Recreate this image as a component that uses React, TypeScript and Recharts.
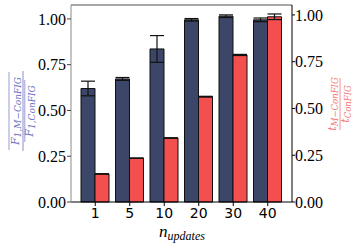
import React from "react";
import {
  BarChart,
  Bar,
  XAxis,
  YAxis,
  ErrorBar,
  ReferenceLine,
} from "recharts";

const updates = ["1", "5", "10", "20", "30", "40"];
const forceRatio = [0.62, 0.672, 0.836, 0.995, 1.015, 0.995];
const forceErr = [0.04, 0.008, 0.073, 0.007, 0.007, 0.01];
const timeRatio = [0.15, 0.234, 0.342, 0.563, 0.786, 0.99];
const timeErr = [0.001, 0.001, 0.001, 0.002, 0.003, 0.015];
const yTicks = [0, 0.25, 0.5, 0.75, 1];

const data = updates.map((n, i) => ({
  n,
  force: forceRatio[i],
  forceErr: forceErr[i],
  time: timeRatio[i],
  timeErr: timeErr[i],
}));

const NAVY = "#3b4669";
const RED = "#f44f4f";
const BLUE_LABEL = "#6f72c2";
const RED_LABEL = "#f27676";
const serif = "'Liberation Serif', 'DejaVu Serif', serif";
const mathFont = "'DejaVu Serif', serif";

export default function App() {
  return (
    <div style={{ position: "absolute", left: 0, top: 0, width: 356, height: 246, background: "#fff" }}>
      <BarChart
        width={356}
        height={246}
        data={data}
        margin={{ top: 5, right: 0, bottom: 14, left: 0 }}
        barGap={0}
      >
        <XAxis
          dataKey="n"
          height={30}
          padding={{ left: 7, right: 7 }}
          tick={{ fontSize: 14, fill: "#000", fontFamily: "'DejaVu Sans', sans-serif" }}
          tickSize={4}
          tickMargin={2}
          axisLine={{ stroke: "#000" }}
          tickLine={{ stroke: "#000" }}
        />
        <YAxis
          yAxisId="left"
          width={71}
          domain={[0, 1.076]}
          ticks={yTicks}
          tickFormatter={(v) => Number(v).toFixed(2)}
          tick={{ fontSize: 16, fill: "#000", fontFamily: serif }}
          tickSize={4}
          tickMargin={1}
          axisLine={{ stroke: "#8a8a8a" }}
          tickLine={{ stroke: "#444" }}
        />
        <YAxis
          yAxisId="right"
          orientation="right"
          width={64}
          domain={[0, 1.053]}
          ticks={yTicks}
          tickFormatter={(v) => Number(v).toFixed(2)}
          tick={{ fontSize: 16, fill: "#000", fontFamily: serif }}
          tickSize={3}
          tickMargin={0}
          axisLine={{ stroke: "#000" }}
          tickLine={{ stroke: "#000" }}
        />
        <ReferenceLine yAxisId="left" y={1.076} stroke="#8a8a8a" strokeWidth={1.5} />
        <Bar
          yAxisId="left"
          dataKey="force"
          fill={NAVY}
          stroke="#111"
          strokeWidth={1}
          barSize={14}
          isAnimationActive={false}
        >
          <ErrorBar dataKey="forceErr" width={7} stroke="#111" strokeWidth={1.2} />
        </Bar>
        <Bar
          yAxisId="right"
          dataKey="time"
          fill={RED}
          stroke="#111"
          strokeWidth={1}
          barSize={14}
          isAnimationActive={false}
        >
          <ErrorBar dataKey="timeErr" width={7} stroke="#111" strokeWidth={1.2} />
        </Bar>
      </BarChart>
      <svg
        width={356}
        height={246}
        style={{ position: "absolute", left: 0, top: 0, pointerEvents: "none" }}
      >
        {/* left axis label: mean F ratio */}
        <g transform="translate(23 111) rotate(-90)" fill={BLUE_LABEL} fontFamily={mathFont} fontStyle="italic">
          <line x1={-39} x2={39} y1={-14} y2={-14} stroke={BLUE_LABEL} strokeWidth={0.7} />
          <text x={0} y={-4.5} textAnchor="middle" fontSize={11}>
            F<tspan fontSize={9} dy={2}>1,M−ConFIG</tspan>
          </text>
          <line x1={-40} x2={40} y1={0} y2={0} stroke={BLUE_LABEL} strokeWidth={0.8} />
          <line x1={-31} x2={31} y1={1.8} y2={1.8} stroke={BLUE_LABEL} strokeWidth={0.7} />
          <text x={0} y={10} textAnchor="middle" fontSize={11}>
            F<tspan fontSize={9} dy={2}>1,ConFIG</tspan>
          </text>
        </g>
        {/* right axis label: time ratio */}
        <g transform="translate(340 104) rotate(-90)" fill={RED_LABEL} fontFamily={mathFont} fontStyle="italic">
          <text x={0} y={-4.5} textAnchor="middle" fontSize={11}>
            t<tspan fontSize={8.5} dy={2}>M−ConFIG</tspan>
          </text>
          <line x1={-26} x2={26} y1={0} y2={0} stroke={RED_LABEL} strokeWidth={0.8} />
          <text x={0} y={9} textAnchor="middle" fontSize={11}>
            t<tspan fontSize={8.5} dy={2}>ConFIG</tspan>
          </text>
        </g>
        <text x={182} y={237} textAnchor="middle" fontFamily={serif} fontStyle="italic" fill="#000" fontSize={17}>
          n<tspan fontSize={12} dy={3}>updates</tspan>
        </text>
      </svg>
    </div>
  );
}
